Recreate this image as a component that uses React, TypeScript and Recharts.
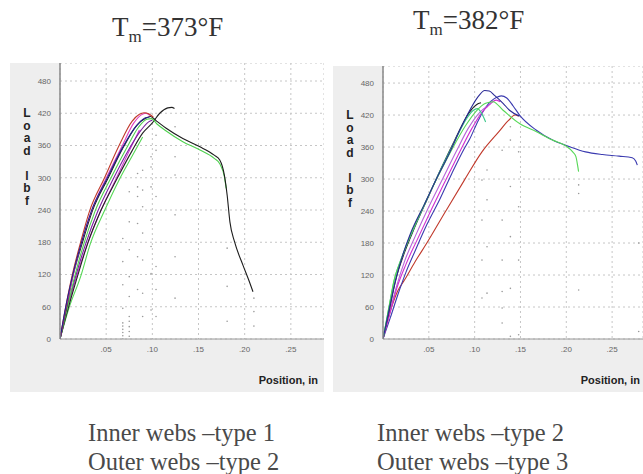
import { CartesianGrid, ComposedChart, Line, Scatter, XAxis, YAxis } from "recharts";

type Pair = [number, number];

const xTicks = [0.05, 0.1, 0.15, 0.2, 0.25];
const yTicks = [0, 60, 120, 180, 240, 300, 360, 420, 480];

// left panel (Tm = 373°F), position in / load lbf
const leftRed: Pair[] = [[0, 0], [0.006, 58], [0.013, 117], [0.022, 178], [0.032, 238], [0.048, 299], [0.064, 360], [0.078, 405], [0.086, 418], [0.091, 421], [0.096, 419], [0.101, 413]];
const leftPink: Pair[] = [[0, 0], [0.0065, 58], [0.014, 117], [0.023, 178], [0.034, 238], [0.05, 299], [0.067, 358], [0.08, 402], [0.088, 417], [0.093, 420], [0.098, 415]];
const leftBlack: Pair[] = [[0, 0], [0.007, 58], [0.014, 117], [0.024, 178], [0.035, 238], [0.052, 299], [0.069, 358], [0.083, 397], [0.093, 411], [0.098, 414], [0.105, 405], [0.115, 392], [0.133, 373], [0.151, 358], [0.167, 342], [0.173, 333], [0.178, 305], [0.181, 268], [0.184, 218], [0.189, 181], [0.198, 138], [0.205, 107], [0.209, 88]];
const leftGreen: Pair[] = [[0, 0], [0.008, 58], [0.016, 117], [0.026, 178], [0.038, 238], [0.055, 299], [0.072, 355], [0.085, 394], [0.094, 409], [0.099, 410], [0.105, 400], [0.115, 387], [0.133, 367], [0.151, 352], [0.167, 336], [0.173, 326], [0.178, 302], [0.18, 280]];
const leftBlack2: Pair[] = [[0, 0], [0.009, 58], [0.019, 117], [0.03, 178], [0.044, 238], [0.062, 299], [0.078, 350], [0.0895, 383], [0.1, 402], [0.108, 420], [0.1167, 430], [0.121, 431], [0.124, 429]];
const leftNavy: Pair[] = [[0, 0], [0.006, 58], [0.0135, 117], [0.023, 178], [0.034, 238], [0.051, 299], [0.068, 357], [0.082, 395], [0.092, 411], [0.097, 413]];
const leftPurple: Pair[] = [[0, 0], [0.008, 58], [0.017, 117], [0.028, 178], [0.041, 238], [0.058, 299], [0.075, 354], [0.088, 389], [0.096, 404], [0.1, 407]];
const leftMagenta: Pair[] = [[0, 0], [0.0085, 58], [0.018, 117], [0.03, 178], [0.044, 238], [0.061, 299], [0.075, 350], [0.086, 389]];
const leftGreen2: Pair[] = [[0, 0], [0.0098, 58], [0.0225, 117], [0.033, 178], [0.048, 238], [0.064, 296], [0.078, 340], [0.0895, 376]];

const leftDots: Pair[] = [
  [0.068, 0], [0.068, 6], [0.068, 12], [0.068, 18], [0.068, 24], [0.068, 30], [0.068, 57], [0.068, 101], [0.068, 144], [0.068, 187],
  [0.075, 5], [0.075, 14], [0.075, 23], [0.075, 33], [0.075, 42], [0.075, 79], [0.075, 116], [0.075, 166], [0.075, 218], [0.075, 274],
  [0.084, 92], [0.084, 153], [0.084, 215], [0.084, 265], [0.084, 283], [0.084, 308],
  [0.0895, 42], [0.0895, 85], [0.0895, 147], [0.0895, 197], [0.0895, 246], [0.0895, 277], [0.0895, 314],
  [0.0986, 54], [0.0986, 122], [0.0986, 172], [0.0986, 221], [0.0986, 283], [0.0986, 320], [0.0986, 339],
  [0.104, 42], [0.104, 92], [0.104, 135], [0.104, 265], [0.104, 351], [0.104, 379],
  [0.1246, 76], [0.1246, 153], [0.1246, 231], [0.1246, 305], [0.1246, 339], [0.1246, 395],
  [0.181, 33], [0.181, 98], [0.181, 169], [0.21, 24], [0.21, 51], [0.21, 76],
];

// right panel (Tm = 382°F)
const rightNavy: Pair[] = [[0, 0], [0.006, 50], [0.013, 105], [0.022, 160], [0.03, 198], [0.045, 252], [0.06, 306], [0.072, 347], [0.085, 396], [0.095, 430], [0.104, 455], [0.111, 466], [0.116, 465], [0.1217, 457], [0.131, 442], [0.138, 429], [0.149, 418]];
const rightNavy2: Pair[] = [[0, 0], [0.008, 40], [0.016, 82], [0.025, 125], [0.035, 165], [0.048, 215], [0.062, 262], [0.075, 310], [0.088, 355], [0.0946, 375], [0.104, 410], [0.1127, 436], [0.1236, 453], [0.129, 456], [0.135, 452], [0.142, 437], [0.149, 420], [0.167, 392], [0.185, 373], [0.203, 361], [0.221, 351], [0.2395, 346], [0.2576, 343], [0.272, 340], [0.2757, 334], [0.2775, 326]];
const rightRed: Pair[] = [[0, 0], [0.008, 52], [0.016, 90], [0.0236, 111], [0.035, 145], [0.0475, 179], [0.0685, 240], [0.0888, 298], [0.108, 351], [0.126, 388], [0.137, 410], [0.144, 420], [0.148, 418]];
const rightGreen: Pair[] = [[0, 0], [0.006, 55], [0.012, 110], [0.02, 150], [0.03, 195], [0.045, 252], [0.06, 305], [0.075, 355], [0.09, 400], [0.102, 428], [0.112, 442], [0.12, 445], [0.131, 429], [0.149, 404], [0.167, 389], [0.185, 373], [0.1997, 362], [0.207, 351], [0.2105, 342], [0.2123, 326], [0.2134, 314]];
const rightGreen2: Pair[] = [[0, 0], [0.006, 55], [0.013, 115], [0.022, 160], [0.033, 205], [0.048, 262], [0.063, 318], [0.078, 370], [0.09, 410], [0.098, 428], [0.103, 432], [0.107, 425], [0.11, 415], [0.112, 407]];
const rightBlack: Pair[] = [[0, 0], [0.007, 55], [0.014, 112], [0.023, 160], [0.034, 207], [0.049, 265], [0.064, 322], [0.078, 372], [0.0946, 426], [0.1036, 441], [0.107, 443]];
const rightMagenta: Pair[] = [[0, 0], [0.007, 45], [0.015, 95], [0.025, 140], [0.037, 185], [0.052, 240], [0.067, 293], [0.082, 345], [0.097, 395], [0.108, 425], [0.116, 439], [0.1236, 448], [0.128, 445]];
const rightViolet: Pair[] = [[0, 0], [0.007, 48], [0.015, 100], [0.024, 148], [0.035, 192], [0.05, 248], [0.065, 300], [0.08, 352], [0.093, 395], [0.103, 420], [0.11, 432], [0.114, 436]];

const rightDots: Pair[] = [
  [0.108, 298], [0.108, 223], [0.108, 148], [0.108, 77],
  [0.1135, 317], [0.1135, 261], [0.1135, 173], [0.1135, 86],
  [0.13, 354], [0.13, 223], [0.13, 148], [0.13, 89], [0.13, 58], [0.13, 30],
  [0.139, 398], [0.139, 373], [0.139, 286], [0.139, 192], [0.139, 95], [0.139, 5],
  [0.148, 351], [0.148, 248], [0.148, 148], [0.148, 8],
  [0.2135, 289], [0.2135, 273], [0.2135, 92], [0.279, 180], [0.279, 14],
];

const toPts = (a: Pair[]) => a.map(([x, y]) => ({ x, y }));

type Curve = { data: Pair[]; color: string };

const leftCurves: Curve[] = [
  { data: leftGreen2, color: "#55d855" },
  { data: leftMagenta, color: "#d03ad0" },
  { data: leftPurple, color: "#7a1fa0" },
  { data: leftBlack2, color: "#222" },
  { data: leftGreen, color: "#4fd04f" },
  { data: leftBlack, color: "#1c1c1c" },
  { data: leftPink, color: "#e040c0" },
  { data: leftRed, color: "#c0392b" },
  { data: leftNavy, color: "#23238f" },
];

const rightCurves: Curve[] = [
  { data: rightRed, color: "#c0392b" },
  { data: rightNavy2, color: "#3b3bb0" },
  { data: rightViolet, color: "#b566d8" },
  { data: rightMagenta, color: "#d030d0" },
  { data: rightBlack, color: "#222" },
  { data: rightGreen2, color: "#3cc88a" },
  { data: rightGreen, color: "#55d855" },
  { data: rightNavy, color: "#2a2a96" },
];

const fmt = (v: number) => v.toFixed(2).replace(/^0/, "");

function Panel({ left, top, width, height, xMax, yMax, curves, dots }: {
  left: number; top: number; width: number; height: number; xMax: number; yMax: number; curves: Curve[]; dots: Pair[];
}) {
  return (
    <div style={{ position: "absolute", left, top, width, height, background: "#eeeeee" }}>
      <ComposedChart width={width} height={height} margin={{ top: 0, right: 0, bottom: 33, left: 40 }}>
        <CartesianGrid stroke="#c6c6c6" strokeDasharray="2 3" fill="#fff" />
        <XAxis type="number" dataKey="x" domain={[0, xMax]} ticks={xTicks} tickFormatter={fmt} allowDataOverflow
          height={20} tickLine={false} tickSize={0} tickMargin={7} stroke="#999" tick={{ fill: "#666", fontSize: 8, fontFamily: "Arial" }} />
        <YAxis type="number" domain={[0, yMax]} ticks={yTicks} allowDataOverflow width={10}
          tickLine={false} tickSize={0} tickMargin={9} stroke="#888" strokeWidth={1.5} tick={{ fill: "#666", fontSize: 8, fontFamily: "Arial" }} />
        <Scatter data={toPts(dots)} dataKey="y" isAnimationActive={false}
          shape={(p: any) => <circle cx={p.cx} cy={p.cy} r={0.8} fill="#9a9a9a" />} />
        {curves.map((c, i) => (
          <Line key={i} data={toPts(c.data)} dataKey="y" type="monotone" stroke={c.color} strokeWidth={1.1}
            dot={false} isAnimationActive={false} />
        ))}
      </ComposedChart>
    </div>
  );
}

const axisLetter = { fontFamily: "Arial", fontWeight: 700, fontSize: 12, color: "#222", lineHeight: "12.5px", textAlign: "center" as const, width: 12 };
const caption = { position: "absolute" as const, fontFamily: "Liberation Serif", fontSize: 24.5, color: "#4a4a4a", lineHeight: "29px", whiteSpace: "pre" as const };
const title = { position: "absolute" as const, fontFamily: "Liberation Serif", fontSize: 27, color: "#333", lineHeight: "30px", whiteSpace: "pre" as const };

function LoadLabel({ left, top }: { left: number; top: number }) {
  return (
    <div style={{ position: "absolute", left, top, ...axisLetter }}>
      {["L", "o", "a", "d", "\u00a0", "l", "b", "f"].map((c, i) => <div key={i}>{c}</div>)}
    </div>
  );
}

function PosLabel({ right, top }: { right: number; top: number }) {
  return (
    <div style={{ position: "absolute", left: right - 60, top, width: 60, textAlign: "right", fontFamily: "Arial", fontWeight: 700, fontSize: 11, color: "#222" }}>
      Position, in
    </div>
  );
}

export default function App() {
  return (
    <div style={{ position: "absolute", left: 0, top: 0, width: 643, height: 474, background: "#fff", overflow: "hidden" }}>
      <div style={{ ...title, left: 112, top: 12 }}>T<sub style={{ fontSize: 17 }}>m</sub>=373°F</div>
      <div style={{ ...title, left: 413, top: 5 }}>T<sub style={{ fontSize: 17 }}>m</sub>=382°F</div>

      <Panel left={10} top={63} width={314} height={329} xMax={0.2859} yMax={513.5} curves={leftCurves} dots={leftDots} />
      <Panel left={333} top={66} width={310} height={326} xMax={0.2837} yMax={512} curves={rightCurves} dots={rightDots} />

      <LoadLabel left={21} top={107} />
      <LoadLabel left={344} top={109} />
      <PosLabel right={318} top={374} />
      <PosLabel right={640} top={374} />

      <div style={{ ...caption, left: 88, top: 418 }}>{"Inner webs \u2013type 1\nOuter webs \u2013type 2"}</div>
      <div style={{ ...caption, left: 377, top: 418 }}>{"Inner webs \u2013type 2\nOuter webs \u2013type 3"}</div>
    </div>
  );
}
